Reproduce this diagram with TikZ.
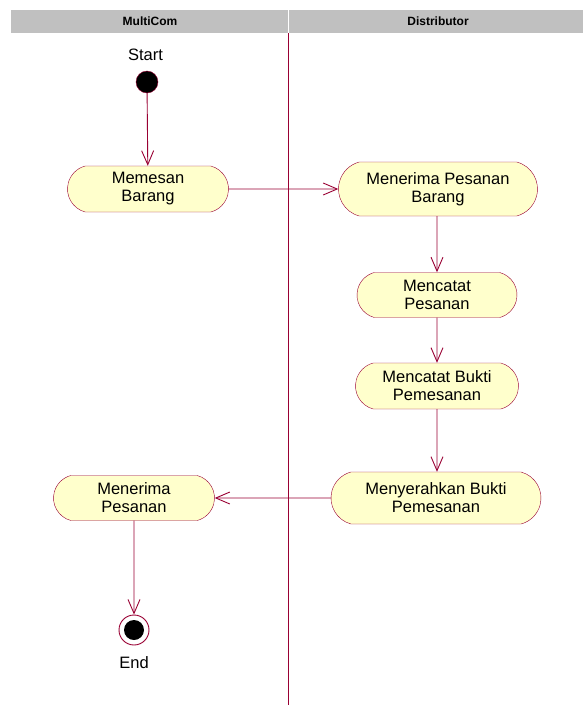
\documentclass[tikz,border=0pt]{standalone}
\usepackage{fontspec}
\setmainfont{Liberation Sans}
\usetikzlibrary{shapes.misc,arrows.meta}
\definecolor{umlred}{HTML}{990033}
\definecolor{umlfill}{HTML}{FFFFCC}
\definecolor{lanegray}{HTML}{C0C0C0}
\tikzstyle{activity}=[rounded rectangle,rounded rectangle arc length=150,draw=umlred,fill=umlfill,align=center,inner sep=0pt,font=\fontsize{16.5}{18}\selectfont]
\tikzstyle{flow}=[draw=umlred,line width=0.9pt,-{Straight Barb[length=14pt,width=12pt]}]
\tikzstyle{label}=[font=\fontsize{16.5}{18}\selectfont]
\tikzstyle{lanehead}=[font=\bfseries\fontsize{12}{14}\selectfont]

\begin{document}
\begin{tikzpicture}[x=1pt,y=-1pt]
\useasboundingbox (0,0) rectangle (583,705);

% swimlanes
\fill[lanegray] (11,10) rectangle (583,33);
\draw[white,line width=1pt] (288,10) -- (288,33);
\node[lanehead] (lane1) at (150,21.5) {MultiCom};
\node[lanehead] (lane2) at (438,21.5) {Distributor};
\draw[umlred,line width=0.8pt] (288,33) -- (288,705);

% start
\node[circle,fill=black,draw=umlred,minimum size=22pt,inner sep=0pt] (start) at (147,82) {};
\node[label] (startlbl) at (145.5,55) {Start};

% activities
\node[activity,minimum width=161pt,minimum height=46pt] (memesan) at (148,189) {Memesan\\Barang};
\node[activity,minimum width=199pt,minimum height=54pt] (terima) at (438,189) {Menerima Pesanan\\Barang};
\node[activity,minimum width=160pt,minimum height=45pt] (catat) at (437,295) {Mencatat\\Pesanan};
\node[activity,minimum width=163pt,minimum height=46pt] (bukti) at (437,386) {Mencatat Bukti\\Pemesanan};
\node[activity,minimum width=210pt,minimum height=52pt] (serah) at (436,498) {Menyerahkan Bukti\\Pemesanan};
\node[activity,minimum width=161pt,minimum height=45pt] (pesanan) at (134,498) {Menerima\\Pesanan};

% end
\node[circle,draw=umlred,fill=white,minimum size=30pt,inner sep=0pt,line width=0.9pt] (end) at (134,630) {};
\node[circle,fill=black,minimum size=20pt,inner sep=0pt] (endin) at (134,630) {};
\node[label] (endlbl) at (134,663) {End};

% flows
\draw[flow] (start) -- (memesan);
\draw[flow] (memesan) -- (terima);
\draw[flow] (terima.south -| catat) -- (catat);
\draw[flow] (catat) -- (bukti);
\draw[flow] (bukti) -- (serah.north -| bukti);
\draw[flow] (serah) -- (pesanan);
\draw[flow] (pesanan) -- (end);
\end{tikzpicture}
\end{document}
